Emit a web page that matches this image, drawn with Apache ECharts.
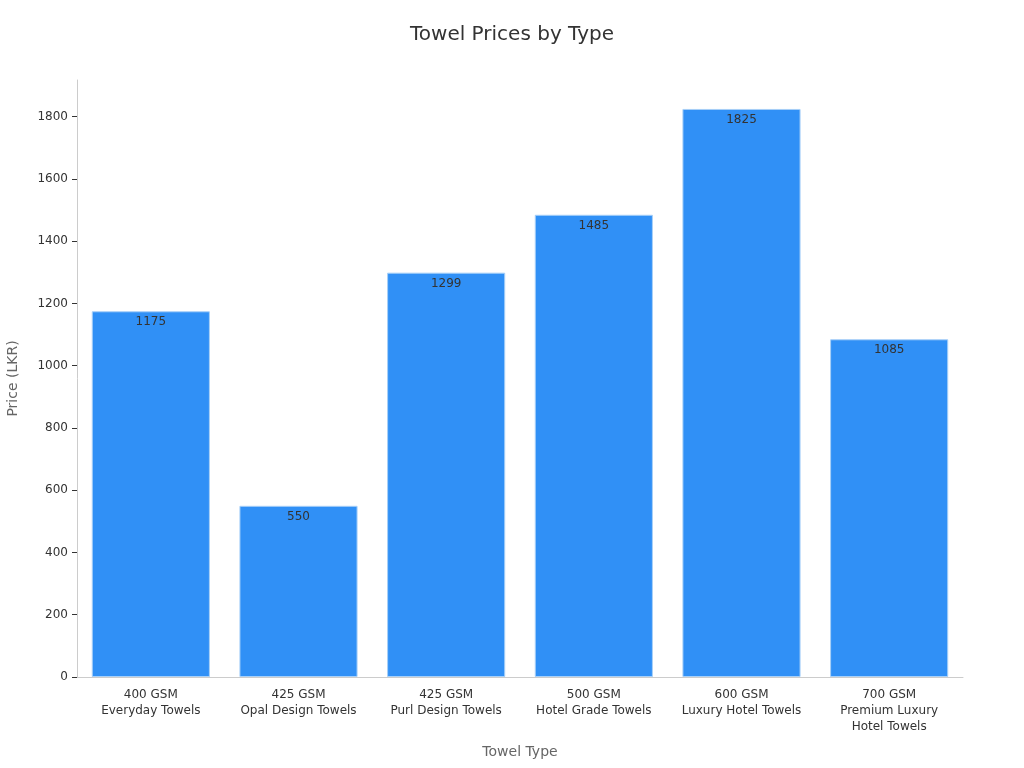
<!DOCTYPE html>
<html><head><meta charset="utf-8">
<script src="https://cdn.jsdelivr.net/npm/echarts@6/dist/echarts.min.js"></script>
<style>html,body{margin:0;padding:0;background:#fff}#c{width:1024px;height:768px}</style>
</head><body><div id="c"></div>
<script>
const categories = ["400 GSM\nEveryday Towels","425 GSM\nOpal Design Towels","425 GSM\nPurl Design Towels","500 GSM\nHotel Grade Towels","600 GSM\nLuxury Hotel Towels","700 GSM\nPremium Luxury\nHotel Towels"];
const prices = [1175, 550, 1299, 1485, 1825, 1085];
const yTicks = [0,200,400,600,800,1000,1200,1400,1600,1800];

const chart = echarts.init(document.getElementById('c'));
chart.setOption({
  textStyle:{fontFamily:'DejaVu Sans'},
  title:{text:'Towel Prices by Type',left:'center',top:20,textStyle:{fontSize:20,fontWeight:'normal',color:'#333',fontFamily:'DejaVu Sans'}},
  grid:{left:77,right:61,top:80,bottom:91,containLabel:false,outerBoundsMode:'none'},
  xAxis:{type:'category',data:categories,
    name:'Towel Type',nameLocation:'middle',nameGap:68,nameTextStyle:{fontSize:14,color:'#666'},
    axisLine:{lineStyle:{color:'#ccc'}},
    axisTick:{alignWithLabel:true,lineStyle:{color:'#666'}},
    axisLabel:{color:'#333',fontSize:12,lineHeight:16,interval:0,margin:10}},
  yAxis:{type:'value',min:0,max:1918,interval:200,
    name:'Price (LKR)',nameLocation:'middle',nameGap:57,nameTextStyle:{fontSize:14,color:'#666'},
    axisLine:{show:true,lineStyle:{color:'#ccc'}},
    axisTick:{show:true,customValues:yTicks,lineStyle:{color:'#333'}},
    axisLabel:{color:'#333',fontSize:12,customValues:yTicks,margin:9,formatter:function(v){return String(v);}},
    splitLine:{show:false}},
  series:[{type:'bar',data:prices,barCategoryGap:'20%',
    itemStyle:{color:'#3090f6',borderColor:'#a8d0f8',borderWidth:1},
    label:{show:true,position:'insideTop',color:'#333',fontSize:12,distance:5}}]
});
</script></body></html>
